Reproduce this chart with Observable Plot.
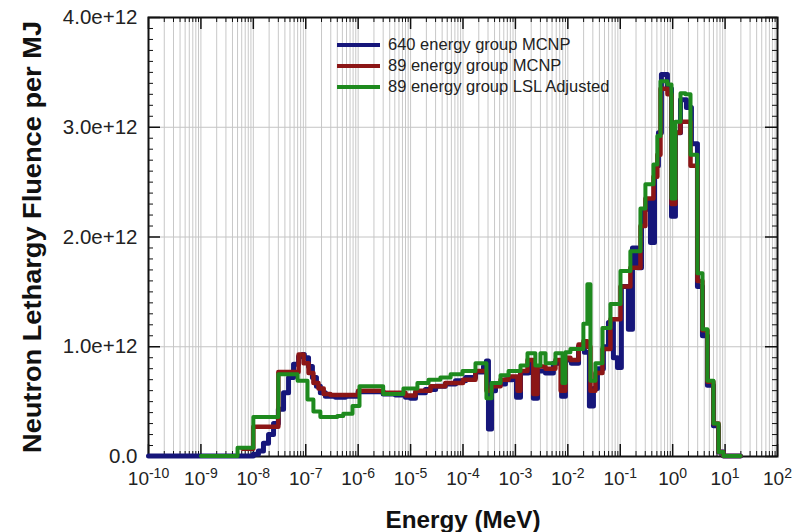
<!DOCTYPE html>
<html>
<head>
<meta charset="utf-8">
<script src="https://cdn.jsdelivr.net/npm/d3@7"></script>
<script src="https://cdn.jsdelivr.net/npm/@observablehq/plot@0.6"></script>
<style>
  body { margin: 0; background: #fff; }
  #wrap { position: relative; width: 798px; height: 532px; font-family: "Liberation Sans", Arial, sans-serif; }
  #legend { position: absolute; left: 337px; top: 34px; font-size: 16.5px; color: #222; }
  #legend .row { height: 21px; display: flex; align-items: center; white-space: nowrap; }
  #legend .sw { width: 43px; height: 4px; margin-right: 8px; }
</style>
</head>
<body>
<div id="wrap"></div>
<script>
// ---- data (energy in MeV, fluence in units of 1e12) ----
const seriesNames = ["640 energy group MCNP", "89 energy group MCNP", "89 energy group LSL Adjusted"];
const seriesColors = ["#16167a", "#8c1616", "#1e8a1e"];

const blueE = [1e-10, 1e-8, 1.25e-8, 1.56e-8, 1.95e-8, 2.43e-8, 3e-8, 3.77e-8, 4.7e-8, 5.85e-8, 7.3e-8, 8.7e-8, 9.4e-8,
  1.13e-7, 1.34e-7, 1.6e-7, 1.9e-7, 2.37e-7, 3.7e-7, 5.7e-7, 1e-6, 1.7e-6, 3e-6, 5.15e-6, 8e-6, 1e-5, 1.24e-5, 1.92e-5,
  3e-5, 4.6e-5, 7.2e-5, 1.12e-4, 1.73e-4, 2.46e-4, 2.8e-4, 3.06e-4, 3.5e-4, 4.17e-4, 6.45e-4, 8.8e-4, 1.05e-3, 1.25e-3,
  1.78e-3, 2.2e-3, 2.64e-3, 3.75e-3, 5.3e-3, 7.6e-3, 9e-3, 1.17e-2, 1.6e-2, 2.07e-2, 2.58e-2, 3.08e-2, 3.67e-2, 4.77e-2,
  5.95e-2, 7.4e-2, 8.85e-2, 1.05e-1, 1.43e-1, 1.71e-1, 2.13e-1, 2.54e-1, 3.16e-1, 3.77e-1, 4.5e-1, 5.35e-1, 6.1e-1,
  7.95e-1, 9.5e-1, 1.13, 1.41, 1.83, 2.28, 2.97, 3.7, 4.6, 6.0, 7.5, 9.3, 19.7];
const blueV = [0.005, 0.02, 0.05, 0.12, 0.2, 0.3, 0.43, 0.58, 0.72, 0.84, 0.91, 0.93, 0.9,
  0.82, 0.72, 0.64, 0.58, 0.55, 0.54, 0.55, 0.59, 0.59, 0.57, 0.56, 0.54, 0.53, 0.58, 0.61,
  0.64, 0.66, 0.69, 0.72, 0.77, 0.82, 0.87, 0.25, 0.60, 0.66, 0.70, 0.72, 0.54, 0.76,
  0.85, 0.53, 0.78, 0.76, 0.85, 0.55, 0.88, 0.85, 1.0, 0.95, 0.46, 0.62, 0.80, 1.0,
  1.22, 0.90, 0.81, 1.55, 1.16, 1.90, 1.72, 2.25, 2.33, 1.95, 2.65, 2.95, 3.48,
  3.35, 2.19, 2.95, 3.25, 3.18, 2.85, 1.55, 1.10, 0.65, 0.28, 0.04, 0.005, 0.005];

const redE = [6.2e-9, 1e-8, 3e-8, 7.3e-8, 9.1e-8, 1.13e-7, 1.4e-7, 1.75e-7, 2.2e-7, 2.95e-7, 1e-6, 3e-6, 8e-6,
  1.24e-5, 2.4e-5, 4.6e-5, 1e-4, 1.73e-4, 2.8e-4, 3.5e-4, 5.2e-4, 7.4e-4, 1.1e-3, 1.25e-3, 1.7e-3, 2.2e-3, 2.64e-3,
  3.75e-3, 5.8e-3, 7.3e-3, 9e-3, 1.12e-2, 1.6e-2, 1.98e-2, 2.36e-2, 2.7e-2, 3.36e-2, 4.57e-2, 6.5e-2, 1.01e-1, 1.56e-1,
  2.43e-1, 3.02e-1, 4.3e-1, 5.1e-1, 5.85e-1, 7.95e-1, 9.5e-1, 1.13, 1.41, 1.75, 2.19, 2.97, 3.7, 4.6, 6.0, 7.5, 9.3, 19.7];
const redV = [0.07, 0.27, 0.77, 0.93, 0.85, 0.76, 0.67, 0.62, 0.57, 0.56, 0.60, 0.58, 0.555,
  0.60, 0.64, 0.67, 0.70, 0.78, 0.60, 0.64, 0.70, 0.73, 0.60, 0.78, 0.88, 0.57, 0.82,
  0.80, 0.88, 0.60, 0.90, 0.88, 1.02, 1.05, 1.0, 0.60, 0.76, 0.98, 1.25, 1.55, 1.72,
  2.10, 2.35, 2.55, 2.75, 3.35, 3.30, 2.30, 2.95, 3.05, 3.05, 2.65, 1.60, 1.15, 0.68, 0.30, 0.04, 0.005, 0.005];

const greenE = [1e-9, 5e-9, 1e-8, 3e-8, 7e-8, 1.08e-7, 1.4e-7, 1.9e-7, 4e-7, 5.2e-7, 7.8e-7, 1.06e-6, 3e-6, 7.3e-6,
  1.35e-5, 2.2e-5, 3.7e-5, 5.8e-5, 9.8e-5, 1.73e-4, 2.8e-4, 3.5e-4, 5.2e-4, 7.4e-4, 1.25e-3, 1.7e-3, 2.4e-3, 3e-3,
  3.75e-3, 5.8e-3, 7.9e-3, 9e-3, 1.12e-2, 1.98e-2, 2.36e-2, 2.7e-2, 3.36e-2, 4.57e-2, 6.5e-2, 1.01e-1, 1.56e-1,
  2.43e-1, 3.02e-1, 4.3e-1, 5.1e-1, 5.85e-1, 7.95e-1, 9.5e-1, 1.13, 1.41, 1.75, 2.19, 2.97, 3.7, 4.6, 6.0, 7.5, 9.3, 19.7];
const greenV = [0.005, 0.08, 0.36, 0.75, 0.69, 0.52, 0.41, 0.36, 0.37, 0.39, 0.46, 0.64, 0.57, 0.62,
  0.67, 0.70, 0.72, 0.75, 0.78, 0.85, 0.53, 0.67, 0.74, 0.78, 0.83, 0.94, 0.83, 0.94,
  0.85, 0.94, 0.67, 0.95, 0.98, 1.21, 1.57, 0.69, 0.85, 1.17, 1.39, 1.69, 1.87,
  2.26, 2.48, 2.66, 2.92, 3.42, 3.39, 2.35, 3.05, 3.31, 3.30, 2.75, 1.67, 1.16, 0.69, 0.30, 0.04, 0.005, 0.005];

const decadeExponents = [-10, -9, -8, -7, -6, -5, -4, -3, -2, -1, 0, 1, 2];
const minorMultipliers = [2, 3, 4, 5, 6, 7, 8, 9];
const yTickValues = [0, 1, 2, 3, 4];
const yTickLabels = ["0.0", "1.0e+12", "2.0e+12", "3.0e+12", "4.0e+12"];
const xTitle = "Energy (MeV)";
const yTitle = "Neutron Lethargy Fluence per MJ";

// ---- build tables ----
const toRows = (E, V) => E.map((e, i) => ({e, v: V[i]}));
const blue = toRows(blueE, blueV), red = toRows(redE, redV), green = toRows(greenE, greenV);
const decades = decadeExponents.map(k => Math.pow(10, k));
const minors = decadeExponents.slice(0, -1).flatMap(k => minorMultipliers.map(m => m * Math.pow(10, k)));
const yMinor = d3.range(0, 41).map(i => i / 10).filter(v => !yTickValues.includes(v));

const FW = 629, FH = 439;
const font = "'Liberation Sans', Arial, sans-serif";

const chart = Plot.plot({
  width: 798, height: 532,
  marginLeft: 148, marginRight: 21, marginTop: 17, marginBottom: 76,
  x: {type: "log", domain: [1e-10, 1e2]},
  y: {domain: [0, 4]},
  style: {fontFamily: font, background: "white", color: "#222"},
  marks: [
    Plot.ruleX([...decades, ...minors], {stroke: "#c8c8c8", strokeWidth: 1}),
    Plot.ruleY([1, 2, 3], {stroke: "#c4c4c4", strokeWidth: 1}),
    // inward ticks
    Plot.tickX(minors, {x: d => d, insetTop: FH - 5, stroke: "#111", strokeWidth: 1}),
    Plot.tickX(minors, {x: d => d, insetBottom: FH - 5, stroke: "#111", strokeWidth: 1}),
    Plot.tickX(decades, {x: d => d, insetTop: FH - 12, stroke: "#111", strokeWidth: 1.5}),
    Plot.tickX(decades, {x: d => d, insetBottom: FH - 12, stroke: "#111", strokeWidth: 1.5}),
    Plot.tickY(yMinor, {y: d => d, insetRight: FW - 5, stroke: "#111", strokeWidth: 1}),
    Plot.tickY(yMinor, {y: d => d, insetLeft: FW - 5, stroke: "#111", strokeWidth: 1}),
    Plot.tickY(yTickValues, {y: d => d, insetRight: FW - 12, stroke: "#111", strokeWidth: 1.5}),
    Plot.tickY(yTickValues, {y: d => d, insetLeft: FW - 12, stroke: "#111", strokeWidth: 1.5}),
    Plot.frame({stroke: "#111", strokeWidth: 2}),
    Plot.line(blue, {x: "e", y: "v", curve: "step-after", stroke: seriesColors[0], strokeWidth: 5}),
    Plot.line(red, {x: "e", y: "v", curve: "step-after", stroke: seriesColors[1], strokeWidth: 4.5}),
    Plot.line(green, {x: "e", y: "v", curve: "step-after", stroke: seriesColors[2], strokeWidth: 4}),
    Plot.axisX({ticks: decades, tickSize: 0, tickPadding: 15, fontSize: 19,
      tickFormat: d => "10|" + Math.round(Math.log10(d)), label: null}),
    Plot.axisY({ticks: yTickValues, tickSize: 0, tickPadding: 11, fontSize: 20.5,
      tickFormat: d => yTickLabels[yTickValues.indexOf(d)], label: null}),
    Plot.text([xTitle], {text: d => d, frameAnchor: "bottom", lineAnchor: "bottom", dy: 71, fontSize: 23.5, fontWeight: "bold", fill: "#111"}),
    Plot.text([yTitle], {text: d => d, frameAnchor: "left", textAnchor: "middle", lineAnchor: "middle", dx: -116, rotate: -90, fontSize: 26, fontWeight: "bold", fill: "#111"})
  ]
});

// superscript exponents on the x tick labels; stretch titles to the reference length
chart.querySelectorAll("text").forEach(t => {
  const s = t.textContent;
  if (/^10\|/.test(s)) {
    const exp = s.split("|")[1];
    t.textContent = "";
    const a = document.createElementNS("http://www.w3.org/2000/svg", "tspan");
    a.textContent = "10";
    const b = document.createElementNS("http://www.w3.org/2000/svg", "tspan");
    b.textContent = exp;
    b.setAttribute("dy", "-7");
    b.setAttribute("font-size", "14");
    t.appendChild(a); t.appendChild(b);
  } else if (s === yTitle) {
    t.setAttribute("textLength", "432");
    t.setAttribute("lengthAdjust", "spacingAndGlyphs");
  } else if (s === xTitle) {
    t.setAttribute("textLength", "155");
    t.setAttribute("lengthAdjust", "spacingAndGlyphs");
  }
});

const wrap = document.getElementById("wrap");
wrap.appendChild(chart);
const legend = document.createElement("div");
legend.id = "legend";
seriesNames.forEach((n, i) => {
  const row = document.createElement("div");
  row.className = "row";
  const sw = document.createElement("span");
  sw.className = "sw";
  sw.style.background = seriesColors[i];
  const lab = document.createElement("span");
  lab.textContent = n;
  row.appendChild(sw); row.appendChild(lab);
  legend.appendChild(row);
});
wrap.appendChild(legend);
</script>
</body>
</html>
